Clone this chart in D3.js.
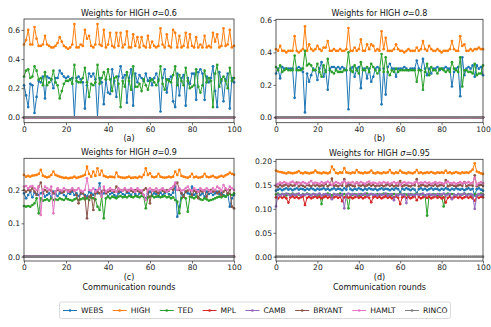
<!DOCTYPE html>
<html>
<head>
<meta charset="utf-8">
<script src="https://cdn.jsdelivr.net/npm/d3@7"></script>
<style>
  body { margin: 0; background: #fff; }
  svg { display: block; font-family: "DejaVu Sans", sans-serif; }
</style>
</head>
<body>
<svg id="chart" width="491" height="327"></svg>
<script>
const names = ['WEBS', 'HIGH', 'TED', 'MPL', 'CAMB', 'BRYANT', 'HAMLT', 'RINCO']
const colors = ['#1f77b4', '#ff7f0e', '#2ca02c', '#d62728', '#9467bd', '#8c564b', '#e377c2', '#7f7f7f']
const xTicks = [0, 20, 40, 60, 80, 100]
const sigmas = ['0.6', '0.8', '0.9', '0.95']
const subLabels = ['(a)', '(b)', '(c)', '(d)']
const yTicksA = [0, 0.2, 0.4, 0.6]
const yTicksB = [0, 0.2, 0.4, 0.6]
const yTicksC = [0, 0.1, 0.2]
const yTicksD = [0, 0.05, 0.1, 0.15, 0.2]

const zeros = [0,0,0,0,0,0,0,0,0,0, 0,0,0,0,0,0,0,0,0,0, 0,0,0,0,0,0,0,0,0,0, 0,0,0,0,0,0,0,0,0,0, 0,0,0,0,0,0,0,0,0,0,
  0,0,0,0,0,0,0,0,0,0, 0,0,0,0,0,0,0,0,0,0, 0,0,0,0,0,0,0,0,0,0, 0,0,0,0,0,0,0,0,0,0, 0,0,0,0,0,0,0,0,0,0, 0]

// sigma = 0.6
const high_a = [0.50,0.53,0.60,0.50,0.50,0.62,0.54,0.49,0.49,0.50, 0.56,0.50,0.49,0.48,0.48,0.49,0.51,0.55,0.52,0.49,
  0.48,0.47,0.48,0.50,0.64,0.48,0.48,0.50,0.49,0.60, 0.54,0.56,0.49,0.48,0.50,0.64,0.50,0.49,0.60,0.48,
  0.50,0.58,0.49,0.48,0.58,0.49,0.58,0.48,0.50,0.59, 0.48,0.48,0.57,0.49,0.55,0.48,0.55,0.49,0.48,0.56,
  0.48,0.52,0.49,0.48,0.49,0.61,0.50,0.48,0.57,0.49, 0.48,0.60,0.58,0.48,0.56,0.48,0.49,0.58,0.48,0.57,
  0.49,0.48,0.55,0.48,0.50,0.48,0.56,0.48,0.49,0.48, 0.58,0.52,0.57,0.48,0.49,0.61,0.49,0.50,0.60,0.48, 0.49]
const webs_a = [0.22,0.15,0.07,0.23,0.22,0.03,0.14,0.25,0.24,0.28, 0.13,0.28,0.27,0.26,0.20,0.27,0.27,0.32,0.30,0.28,
  0.27,0.28,0.26,0.27,0.00,0.27,0.28,0.26,0.24,0.06, 0.22,0.30,0.28,0.30,0.26,0.00,0.27,0.24,0.09,0.26,
  0.17,0.16,0.33,0.25,0.14,0.28,0.35,0.27,0.29,0.10, 0.27,0.33,0.08,0.30,0.24,0.29,0.27,0.25,0.30,0.25,
  0.27,0.22,0.27,0.30,0.26,0.04,0.27,0.33,0.17,0.26, 0.28,0.11,0.07,0.30,0.15,0.27,0.29,0.08,0.27,0.23,
  0.30,0.30,0.12,0.31,0.33,0.30,0.12,0.28,0.24,0.27, 0.35,0.18,0.07,0.31,0.25,0.11,0.26,0.30,0.06,0.27, 0.24]
const ted_a = [0.28,0.32,0.33,0.27,0.28,0.35,0.32,0.26,0.27,0.22, 0.31,0.22,0.24,0.26,0.32,0.24,0.22,0.13,0.18,0.23,
  0.25,0.25,0.26,0.23,0.36,0.25,0.24,0.24,0.27,0.34, 0.24,0.14,0.23,0.22,0.24,0.36,0.23,0.27,0.31,0.26,
  0.33,0.26,0.18,0.27,0.28,0.23,0.07,0.25,0.21,0.31, 0.25,0.19,0.35,0.21,0.21,0.23,0.18,0.26,0.22,0.19,
  0.25,0.26,0.24,0.22,0.25,0.35,0.23,0.19,0.26,0.25, 0.24,0.29,0.35,0.22,0.29,0.25,0.22,0.34,0.25,0.20,
  0.21,0.22,0.33,0.21,0.17,0.22,0.32,0.24,0.27,0.25, 0.07,0.30,0.36,0.21,0.26,0.28,0.25,0.20,0.34,0.25, 0.27]

// sigma = 0.8
const high_b = [0.42,0.41,0.44,0.41,0.41,0.40,0.41,0.41,0.41,0.50, 0.41,0.40,0.41,0.42,0.56,0.41,0.45,0.42,0.41,0.42,
  0.44,0.42,0.41,0.43,0.43,0.47,0.41,0.41,0.42,0.41, 0.41,0.42,0.41,0.41,0.42,0.55,0.41,0.41,0.43,0.41,
  0.42,0.48,0.41,0.41,0.45,0.42,0.45,0.44,0.41,0.42, 0.41,0.53,0.42,0.49,0.41,0.41,0.41,0.42,0.45,0.42,
  0.41,0.41,0.40,0.41,0.42,0.41,0.41,0.41,0.43,0.41, 0.42,0.47,0.42,0.41,0.44,0.42,0.41,0.41,0.42,0.41,
  0.40,0.41,0.41,0.41,0.42,0.47,0.42,0.41,0.41,0.50, 0.44,0.45,0.41,0.41,0.42,0.41,0.42,0.42,0.43,0.42, 0.42]
const webs_b = [0.27,0.30,0.24,0.31,0.30,0.30,0.30,0.30,0.30,0.12, 0.30,0.31,0.30,0.28,0.03,0.27,0.22,0.26,0.30,0.29,
  0.23,0.30,0.34,0.25,0.29,0.17,0.30,0.31,0.31,0.30, 0.31,0.30,0.31,0.30,0.29,0.05,0.30,0.31,0.25,0.30,
  0.31,0.18,0.30,0.30,0.24,0.30,0.22,0.25,0.30,0.31, 0.30,0.08,0.30,0.14,0.31,0.33,0.30,0.30,0.25,0.30,
  0.30,0.30,0.31,0.30,0.29,0.30,0.30,0.30,0.35,0.30, 0.29,0.36,0.30,0.26,0.30,0.27,0.30,0.30,0.31,0.29,
  0.30,0.30,0.31,0.30,0.30,0.19,0.28,0.30,0.31,0.13, 0.37,0.26,0.30,0.31,0.30,0.32,0.25,0.32,0.30,0.31, 0.26]
const ted_b = [0.31,0.29,0.32,0.28,0.29,0.30,0.29,0.29,0.29,0.38, 0.29,0.29,0.29,0.30,0.41,0.32,0.33,0.32,0.29,0.29,
  0.33,0.28,0.25,0.32,0.28,0.36,0.29,0.28,0.27,0.29, 0.28,0.28,0.28,0.29,0.29,0.40,0.29,0.28,0.32,0.29,
  0.27,0.34,0.29,0.29,0.31,0.28,0.33,0.31,0.29,0.27, 0.29,0.39,0.28,0.37,0.28,0.26,0.29,0.28,0.30,0.28,
  0.29,0.29,0.29,0.29,0.29,0.29,0.29,0.29,0.22,0.29, 0.29,0.17,0.28,0.33,0.26,0.31,0.29,0.29,0.27,0.30,
  0.30,0.29,0.28,0.29,0.28,0.34,0.30,0.29,0.28,0.37, 0.19,0.29,0.29,0.28,0.28,0.27,0.33,0.26,0.27,0.27, 0.32]

// sigma = 0.9
const high_c = [.245,.240,.242,.240,.243,.244,.245,.248,.260,.243, .240,.238,.240,.245,.255,.245,.242,.240,.238,.236,
  .237,.235,.236,.237,.240,.236,.238,.240,.242,.245, .270,.248,.240,.255,.242,.265,.245,.258,.242,.240,
  .238,.240,.239,.238,.252,.240,.238,.237,.236,.238, .240,.236,.237,.238,.236,.240,.238,.245,.265,.245,
  .250,.240,.238,.240,.248,.240,.238,.237,.238,.240, .238,.240,.255,.245,.260,.242,.240,.238,.237,.240,
  .248,.238,.240,.237,.238,.240,.248,.240,.238,.240, .242,.238,.237,.240,.242,.240,.244,.247,.252,.248, .246]
const webs_c = [.190,.175,.185,.195,.178,.192,.188,.185,.190,.195, .180,.185,.190,.178,.195,.188,.182,.190,.195,.185,
  .180,.192,.188,.195,.185,.190,.182,.188,.192,.185, .180,.195,.190,.185,.200,.190,.220,.185,.190,.195,
  .180,.188,.192,.185,.180,.190,.195,.188,.185,.192, .190,.185,.195,.188,.182,.190,.195,.185,.175,.190,
  .195,.185,.190,.188,.180,.192,.185,.190,.195,.188, .185,.192,.210,.120,.150,.190,.185,.195,.190,.188,
  .210,.185,.190,.200,.185,.190,.180,.195,.188,.192, .185,.190,.195,.188,.190,.185,.180,.190,.150,.175, .185]
const ted_c = [.152,.150,.152,.150,.155,.160,.175,.130,.175,.168, .170,.172,.168,.175,.170,.172,.170,.175,.172,.170,
  .175,.172,.170,.168,.172,.175,.170,.172,.175,.172, .175,.170,.178,.175,.172,.150,.140,.180,.115,.175,
  .180,.175,.180,.178,.175,.180,.182,.178,.180,.178, .182,.180,.178,.182,.180,.178,.182,.180,.145,.178,
  .180,.182,.178,.180,.182,.178,.180,.182,.178,.180, .175,.178,.170,.165,.130,.175,.180,.175,.135,.180,
  .178,.175,.180,.178,.172,.170,.175,.172,.168,.170, .172,.175,.178,.180,.178,.182,.180,.185,.188,.185, .190]
const bryant_c = [.200,.195,.200,.198,.205,.195,.185,.210,.222,.190, .200,.195,.200,.198,.190,.195,.200,.198,.192,.195,
  .200,.198,.195,.200,.198,.185,.160,.195,.190,.180, .115,.180,.185,.140,.190,.195,.190,.195,.200,.190,
  .195,.198,.200,.195,.210,.195,.200,.198,.202,.195, .200,.198,.195,.200,.198,.195,.190,.200,.205,.195,
  .160,.200,.198,.195,.190,.200,.198,.195,.200,.198, .205,.200,.218,.222,.200,.190,.180,.195,.198,.200,
  .185,.198,.195,.175,.198,.195,.200,.180,.198,.200, .195,.198,.190,.195,.185,.195,.200,.190,.200,.150, .145]
const hamlt_c = [.210,.212,.205,.210,.212,.205,.200,.210,.125,.200, .210,.205,.200,.210,.130,.195,.205,.200,.198,.205,
  .200,.195,.200,.205,.198,.200,.205,.198,.195,.200, .235,.200,.198,.205,.195,.200,.205,.180,.210,.195,
  .200,.205,.198,.200,.195,.205,.200,.198,.205,.200, .198,.205,.200,.195,.205,.200,.198,.185,.170,.200,
  .205,.198,.200,.205,.198,.200,.205,.200,.195,.200, .205,.210,.222,.200,.205,.198,.200,.205,.210,.200,
  .198,.205,.200,.195,.205,.200,.198,.205,.200,.195, .205,.200,.210,.205,.198,.215,.205,.200,.210,.205, .200]

// sigma = 0.95
const high_d = [.180,.178,.177,.176,.175,.174,.176,.175,.174,.175, .176,.179,.175,.174,.176,.175,.174,.175,.176,.180,
  .176,.175,.174,.176,.175,.174,.176,.188,.182,.175, .174,.176,.175,.185,.176,.175,.174,.176,.175,.181,
  .176,.175,.174,.176,.175,.176,.180,.175,.174,.176, .175,.174,.176,.175,.176,.181,.175,.174,.176,.175,
  .180,.176,.175,.174,.176,.175,.174,.176,.181,.175, .176,.174,.175,.176,.175,.177,.175,.174,.176,.175,
  .176,.175,.180,.175,.176,.174,.175,.177,.175,.174, .176,.175,.176,.175,.178,.182,.195,.178,.176,.174, .173]
const hamlt_d = [.150,.152,.155,.153,.156,.154,.152,.155,.157,.154, .152,.155,.153,.156,.154,.152,.155,.158,.153,.155,
  .154,.152,.156,.153,.155,.157,.154,.150,.153,.156, .154,.152,.155,.158,.153,.155,.154,.156,.152,.155,
  .153,.156,.154,.152,.155,.157,.153,.155,.154,.152, .155,.153,.156,.154,.155,.152,.154,.156,.153,.155,
  .150,.154,.156,.153,.155,.154,.152,.155,.157,.153, .155,.154,.156,.153,.155,.152,.154,.156,.153,.155,
  .154,.152,.155,.157,.154,.153,.155,.152,.154,.156, .153,.155,.154,.156,.153,.155,.165,.150,.154,.156, .153]
const bryant_d = [.148,.146,.150,.147,.149,.151,.147,.150,.148,.149, .155,.147,.150,.148,.146,.150,.149,.147,.151,.148,
  .150,.147,.149,.148,.152,.147,.150,.163,.148,.149, .147,.150,.148,.162,.147,.149,.150,.148,.147,.155,
  .149,.148,.150,.147,.149,.151,.148,.150,.147,.149, .148,.150,.147,.149,.151,.148,.150,.147,.149,.148,
  .158,.147,.149,.150,.148,.147,.150,.149,.162,.147, .149,.150,.148,.147,.150,.149,.148,.151,.147,.149,
  .150,.148,.160,.147,.149,.150,.148,.147,.149,.150, .148,.156,.147,.149,.150,.148,.170,.147,.149,.150, .148]
const webs_d = [.138,.140,.142,.139,.141,.143,.140,.142,.139,.141, .143,.140,.142,.141,.139,.142,.140,.143,.141,.139,
  .142,.140,.141,.143,.140,.142,.139,.141,.143,.140, .142,.141,.139,.143,.140,.152,.141,.139,.142,.140,
  .143,.141,.139,.142,.140,.143,.141,.140,.142,.139, .141,.143,.140,.142,.141,.139,.142,.140,.143,.141,
  .135,.142,.140,.143,.141,.139,.142,.140,.133,.141, .143,.140,.142,.139,.141,.143,.140,.142,.141,.139,
  .142,.140,.143,.141,.139,.142,.140,.143,.141,.140, .142,.139,.141,.143,.140,.142,.128,.141,.143,.140, .138]
const ted_d = [.130,.132,.129,.131,.130,.128,.131,.130,.132,.129, .131,.130,.128,.131,.129,.132,.130,.129,.131,.130,
  .128,.131,.110,.130,.129,.132,.130,.128,.131,.129, .130,.132,.129,.131,.128,.101,.130,.129,.131,.130,
  .128,.131,.129,.130,.132,.129,.131,.130,.128,.131, .129,.130,.132,.129,.131,.130,.128,.131,.129,.130,
  .132,.129,.131,.130,.128,.131,.129,.130,.132,.129, .131,.130,.128,.086,.130,.129,.131,.130,.128,.131,
  .129,.105,.130,.132,.129,.131,.130,.128,.131,.129, .130,.132,.129,.131,.130,.128,.131,.129,.130,.132, .129]
const mpl_d = [.124,.122,.126,.123,.125,.122,.113,.124,.126,.123, .125,.122,.124,.126,.108,.123,.125,.122,.124,.126,
  .123,.125,.122,.124,.126,.123,.125,.122,.124,.126, .123,.125,.116,.124,.126,.123,.125,.122,.124,.126,
  .123,.125,.122,.124,.126,.123,.114,.124,.126,.123, .125,.122,.124,.126,.123,.125,.122,.124,.126,.123,
  .110,.124,.126,.123,.125,.122,.124,.126,.118,.125, .122,.124,.126,.123,.125,.122,.124,.126,.123,.125,
  .122,.124,.113,.123,.125,.122,.124,.126,.123,.125, .122,.124,.126,.123,.125,.122,.117,.126,.123,.125, .124]
const camb_d = [.105,.130,.128,.131,.129,.132,.130,.128,.131,.129, .130,.132,.128,.130,.129,.131,.130,.128,.131,.129,
  .130,.132,.128,.130,.131,.129,.130,.120,.131,.129, .130,.128,.131,.101,.130,.132,.129,.131,.130,.128,
  .131,.129,.130,.132,.128,.130,.131,.129,.130,.128, .131,.129,.130,.132,.128,.130,.131,.118,.130,.128,
  .131,.129,.130,.112,.131,.129,.130,.128,.131,.129, .130,.132,.128,.130,.131,.129,.130,.128,.131,.129,
  .130,.132,.128,.130,.131,.120,.130,.128,.131,.129, .130,.132,.128,.130,.131,.129,.100,.128,.131,.129, .130]

// series order: WEBS, HIGH, TED, MPL, CAMB, BRYANT, HAMLT, RINCO
const panels = [
  { series: [webs_a, high_a, ted_a, zeros, zeros, zeros, zeros, zeros], yDomain: [-0.037, 0.675], yTicks: yTicksA, fmt: '.1f', box: [24, 234, 19, 122.7] },
  { series: [webs_b, high_b, ted_b, zeros, zeros, zeros, zeros, zeros], yDomain: [-0.033, 0.604], yTicks: yTicksB, fmt: '.1f', box: [276, 483, 19.3, 122.7] },
  { series: [webs_c, high_c, ted_c, zeros, zeros, bryant_c, hamlt_c, zeros], yDomain: [-0.013, 0.295], yTicks: yTicksC, fmt: '.1f', box: [24, 234, 158.3, 261] },
  { series: [webs_d, high_d, ted_d, mpl_d, camb_d, bryant_d, hamlt_d, zeros], yDomain: [-0.009, 0.2035], yTicks: yTicksD, fmt: '.2f', box: [276, 483, 159.3, 261] }
]

const svg = d3.select('#chart')
const fontSize = 7.6

panels.forEach((p, pi) => {
  const [x0, x1, y0, y1] = p.box
  const x = d3.scaleLinear().domain([0, 100]).range([x0, x1])
  const y = d3.scaleLinear().domain(p.yDomain).range([y1, y0])
  const g = svg.append('g')

  const line = d3.line().x((d, i) => x(i)).y(d => y(d))
  p.series.forEach((s, k) => {
    g.append('path')
      .attr('d', line(s))
      .attr('fill', 'none')
      .attr('stroke', colors[k])
      .attr('stroke-width', 1)
    g.append('g').selectAll('circle')
      .data(s)
      .join('circle')
      .attr('cx', (d, i) => x(i))
      .attr('cy', d => y(d))
      .attr('r', 1.35)
      .attr('fill', colors[k])
  })

  const xa = g.append('g')
    .attr('transform', `translate(0,${y1})`)
    .call(d3.axisBottom(x).tickValues(xTicks).tickSize(2.5).tickPadding(1.5))
  const ya = g.append('g')
    .attr('transform', `translate(${x0},0)`)
    .call(d3.axisLeft(y).tickValues(p.yTicks).tickFormat(d3.format(p.fmt)).tickSize(2.5).tickPadding(1.5))
  ;[xa, ya].forEach(a => {
    a.attr('font-size', fontSize).attr('font-family', '"DejaVu Sans", sans-serif')
    a.select('.domain').remove()
    a.selectAll('line').attr('stroke', '#333').attr('stroke-width', 0.7)
    a.selectAll('text').attr('fill', '#222')
  })

  g.append('rect')
    .attr('x', x0).attr('y', y0)
    .attr('width', x1 - x0).attr('height', y1 - y0)
    .attr('fill', 'none')
    .attr('stroke', '#333')
    .attr('stroke-width', 0.8)

  const title = g.append('text')
    .attr('x', (x0 + x1) / 2)
    .attr('y', y0 - 3.5)
    .attr('text-anchor', 'middle')
    .attr('font-size', 8)
    .attr('fill', '#111')
  title.append('tspan').text('Weights for HIGH ')
  title.append('tspan').attr('font-style', 'italic').text('σ')
  title.append('tspan').text('=' + sigmas[pi])

  g.append('text')
    .attr('x', (x0 + x1) / 2)
    .attr('y', y1 + 18.5)
    .attr('text-anchor', 'middle')
    .attr('font-size', 8)
    .attr('fill', '#111')
    .text(subLabels[pi])

  if (pi >= 2) {
    g.append('text')
      .attr('x', (x0 + x1) / 2)
      .attr('y', y1 + 28.5)
      .attr('text-anchor', 'middle')
      .attr('font-size', 8)
      .attr('fill', '#111')
      .text('Communication rounds')
  }
})

// legend
const legend = svg.append('g')
const box = legend.append('rect')
  .attr('y', 302).attr('height', 16.5).attr('rx', 2)
  .attr('fill', '#fff').attr('stroke', '#d0d0d0').attr('stroke-width', 0.8)
let lx = 63
const ly = 310.5
names.forEach((n, k) => {
  legend.append('line')
    .attr('x1', lx).attr('x2', lx + 14).attr('y1', ly).attr('y2', ly)
    .attr('stroke', colors[k]).attr('stroke-width', 1)
  legend.append('circle')
    .attr('cx', lx + 7).attr('cy', ly).attr('r', 1.35).attr('fill', colors[k])
  const t = legend.append('text')
    .attr('x', lx + 18).attr('y', ly + 2.8)
    .attr('font-size', fontSize)
    .attr('fill', '#111')
    .text(n)
  lx = lx + 18 + t.node().getComputedTextLength() + 9.5
})
box.attr('x', 59.5).attr('width', lx - 9.5 + 3 - 59.5)
</script>
</body>
</html>
